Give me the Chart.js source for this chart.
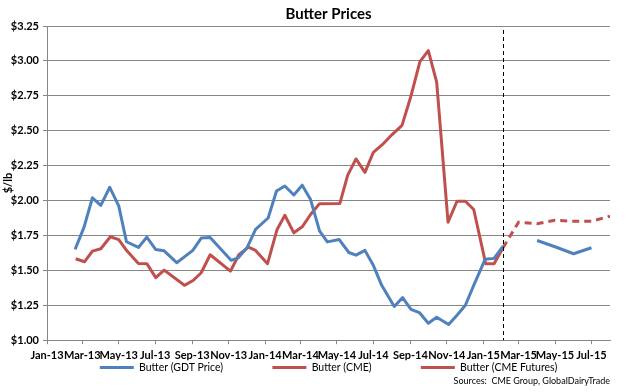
<!DOCTYPE html>
<html>
<head>
<meta charset="utf-8">
<script src="https://cdn.jsdelivr.net/npm/chart.js@4.4.1/dist/chart.umd.min.js"></script>
<style>
  html, body { margin: 0; padding: 0; background: #fff; }
  #wrap { width: 628px; height: 392px; }
</style>
</head>
<body>
<div id="wrap"><canvas id="butter-chart" width="628" height="392"></canvas></div>
<script>
// GDT auction prices ($/lb); null = gap before the forward prices
const gdtDates = [
  '2013-02-17', '2013-03-04', '2013-03-18', '2013-04-01', '2013-04-16', '2013-05-01', '2013-05-14',
  '2013-06-03', '2013-06-17', '2013-07-02', '2013-07-16', '2013-08-06', '2013-09-02', '2013-09-16',
  '2013-10-01', '2013-11-05', '2013-11-17', '2013-12-02', '2013-12-16',
  '2014-01-06', '2014-01-20', '2014-02-03', '2014-02-18', '2014-03-04', '2014-03-18', '2014-04-02',
  '2014-04-15', '2014-05-05', '2014-05-21', '2014-06-02', '2014-06-17', '2014-07-01', '2014-07-15',
  '2014-08-05', '2014-08-19', '2014-09-02', '2014-09-16', '2014-10-01', '2014-10-15', '2014-11-04',
  '2014-11-18', '2014-12-02', '2014-12-16',
  '2015-01-04', '2015-01-19', '2015-02-03', '2015-03-01', '2015-04-01', '2015-05-01', '2015-06-01',
  '2015-07-01'
];
const gdtPrices = [
  1.65, 1.81, 2.02, 1.966, 2.095, 1.962, 1.705,
  1.664, 1.738, 1.649, 1.64, 1.555, 1.643, 1.731,
  1.735, 1.572, 1.59, 1.664, 1.793,
  1.875, 2.068, 2.104, 2.04, 2.11, 2.007, 1.783,
  1.704, 1.721, 1.628, 1.609, 1.643, 1.536, 1.393,
  1.241, 1.305, 1.221, 1.198, 1.121, 1.164, 1.112,
  1.179, 1.25, 1.393,
  1.579, 1.586, 1.674, null, 1.714, 1.669, 1.619,
  1.662
];

// CME spot butter
const cmeDates = [
  '2013-02-18', '2013-03-05', '2013-03-18', '2013-04-01', '2013-04-17', '2013-05-01', '2013-05-15',
  '2013-06-03', '2013-06-17', '2013-07-02', '2013-07-16', '2013-08-19', '2013-09-03', '2013-09-16',
  '2013-10-01', '2013-11-04', '2013-11-18', '2013-12-04', '2013-12-16',
  '2014-01-05', '2014-01-21', '2014-02-03', '2014-02-18', '2014-03-04', '2014-03-18', '2014-04-02',
  '2014-05-06', '2014-05-19', '2014-06-02', '2014-06-17', '2014-07-01', '2014-07-16', '2014-08-01',
  '2014-08-18', '2014-09-01', '2014-09-17', '2014-10-01', '2014-10-15', '2014-11-03', '2014-11-18',
  '2014-12-02', '2014-12-16',
  '2015-01-05', '2015-01-19', '2015-02-03'
];
const cmePrices = [
  1.583, 1.562, 1.638, 1.655, 1.741, 1.72, 1.638,
  1.55, 1.548, 1.448, 1.502, 1.393, 1.429, 1.483,
  1.612, 1.495, 1.612, 1.666, 1.643,
  1.548, 1.793, 1.895, 1.769, 1.812, 1.9, 1.978,
  1.979, 2.18, 2.298, 2.202, 2.345, 2.4, 2.471,
  2.538, 2.734, 2.995, 3.074, 2.848, 1.845, 1.995,
  1.995, 1.936,
  1.548, 1.548, 1.662
];

// CME futures
const futDates = ['2015-02-03', '2015-03-01', '2015-04-01', '2015-05-01', '2015-06-01', '2015-07-01', '2015-08-01'];
const futPrices = [1.662, 1.845, 1.834, 1.859, 1.852, 1.852, 1.888];

const tickDates = [
  '2013-01-01', '2013-03-01', '2013-05-01', '2013-07-01', '2013-09-01', '2013-11-01',
  '2014-01-01', '2014-03-01', '2014-05-01', '2014-07-01', '2014-09-01', '2014-11-01',
  '2015-01-01', '2015-03-01', '2015-05-01', '2015-07-01'
];
const tickLabels = [
  'Jan-13', 'Mar-13', 'May-13', 'Jul-13', 'Sep-13', 'Nov-13',
  'Jan-14', 'Mar-14', 'May-14', 'Jul-14', 'Sep-14', 'Nov-14',
  'Jan-15', 'Mar-15', 'May-15', 'Jul-15'
];
const axisStart = '2013-01-01';
const axisEnd = '2015-08-01';
const forecastStart = '2015-02-03';

// days since Jan 1 2013
function toDay(s) {
  const p = s.split('-').map(Number);
  return (Date.UTC(p[0], p[1] - 1, p[2]) - Date.UTC(2013, 0, 1)) / 86400000;
}
function toPoints(dates, vals) {
  return dates.map((d, i) => ({ x: toDay(d), y: vals[i] }));
}

const gridColor = '#878787';
const font = 'Lato';

// black dashed divider between actual and forecast
const dividerPlugin = {
  id: 'divider',
  afterDatasetsDraw(chart) {
    const { ctx, chartArea, scales } = chart;
    const x = Math.round(scales.x.getPixelForValue(toDay(forecastStart))) + 0.5;
    ctx.save();
    ctx.strokeStyle = '#000';
    ctx.lineWidth = 1;
    ctx.setLineDash([4, 3]);
    ctx.beginPath();
    ctx.moveTo(x, chartArea.top + 4);
    ctx.lineTo(x, chartArea.bottom);
    ctx.stroke();
    ctx.restore();
  }
};

const tickValues = tickDates.map(toDay);

new Chart(document.getElementById('butter-chart'), {
  type: 'line',
  data: {
    datasets: [
      {
        label: 'Butter (GDT Price)',
        data: toPoints(gdtDates, gdtPrices),
        borderColor: '#4F81BD',
        backgroundColor: '#4F81BD',
        borderWidth: 3,
        pointRadius: 0,
        tension: 0,
        spanGaps: false,
        borderJoinStyle: 'round'
      },
      {
        label: 'Butter (CME)',
        data: toPoints(cmeDates, cmePrices),
        borderColor: '#C0504D',
        backgroundColor: '#C0504D',
        borderWidth: 3,
        pointRadius: 0,
        tension: 0,
        borderJoinStyle: 'round'
      },
      {
        label: 'Butter (CME Futures)',
        data: toPoints(futDates, futPrices),
        borderColor: '#C0504D',
        backgroundColor: '#C0504D',
        borderWidth: 3,
        borderDash: [7, 5],
        pointRadius: 0,
        tension: 0
      }
    ]
  },
  options: {
    responsive: false,
    animation: false,
    layout: { padding: { left: 2, right: 18, top: 4, bottom: 4 } },
    plugins: {
      title: {
        display: true,
        text: 'Butter Prices',
        fullSize: false,
        color: '#000',
        font: { family: font, size: 15, weight: 'bold' },
        padding: { top: 1, bottom: 3 }
      },
      subtitle: {
        display: true,
        text: 'Sources:  CME Group, GlobalDairyTrade',
        position: 'bottom',
        align: 'end',
        fullSize: false,
        color: '#000',
        font: { family: font, size: 9 },
        padding: { top: 0, bottom: 2 }
      },
      legend: {
        position: 'bottom',
        fullSize: false,
        maxHeight: 15,
        labels: {
          usePointStyle: true,
          pointStyle: 'line',
          pointStyleWidth: 34,
          boxHeight: 10,
          padding: 2,
          color: '#000',
          font: { family: font, size: 10.5 },
          // widen the gaps between items (label padding would also add height)
          generateLabels(chart) {
            const items = Chart.defaults.plugins.legend.labels.generateLabels(chart);
            items.forEach((it, i) => {
              if (i < items.length - 1) it.text += '\u2002'.repeat(9);
            });
            return items;
          }
        }
      },
      tooltip: { enabled: false }
    },
    scales: {
      x: {
        type: 'linear',
        min: toDay(axisStart),
        max: toDay(axisEnd),
        afterBuildTicks(scale) {
          scale.ticks = tickValues.map(v => ({ value: v }));
        },
        afterFit(scale) { scale.height = 20; },
        grid: { drawOnChartArea: false, color: gridColor, tickLength: 4 },
        border: { color: gridColor },
        ticks: {
          autoSkip: false,
          maxRotation: 0,
          padding: 5,
          color: '#000',
          font: { family: font, size: 11, weight: 'bold' },
          callback: v => tickLabels[tickValues.indexOf(v)]
        }
      },
      y: {
        min: 1,
        max: 3.25,
        afterFit(scale) { scale.width = 45; },
        ticks: {
          stepSize: 0.25,
          padding: 4,
          color: '#000',
          font: { family: font, size: 11, weight: 'bold' },
          callback: v => '$' + v.toFixed(2)
        },
        grid: { color: gridColor, tickLength: 4 },
        border: { color: gridColor },
        title: {
          display: true,
          text: '$/lb',
          color: '#000',
          padding: 0,
          font: { family: font, size: 11, weight: 'bold' }
        }
      }
    }
  },
  plugins: [dividerPlugin]
});
</script>
</body>
</html>
